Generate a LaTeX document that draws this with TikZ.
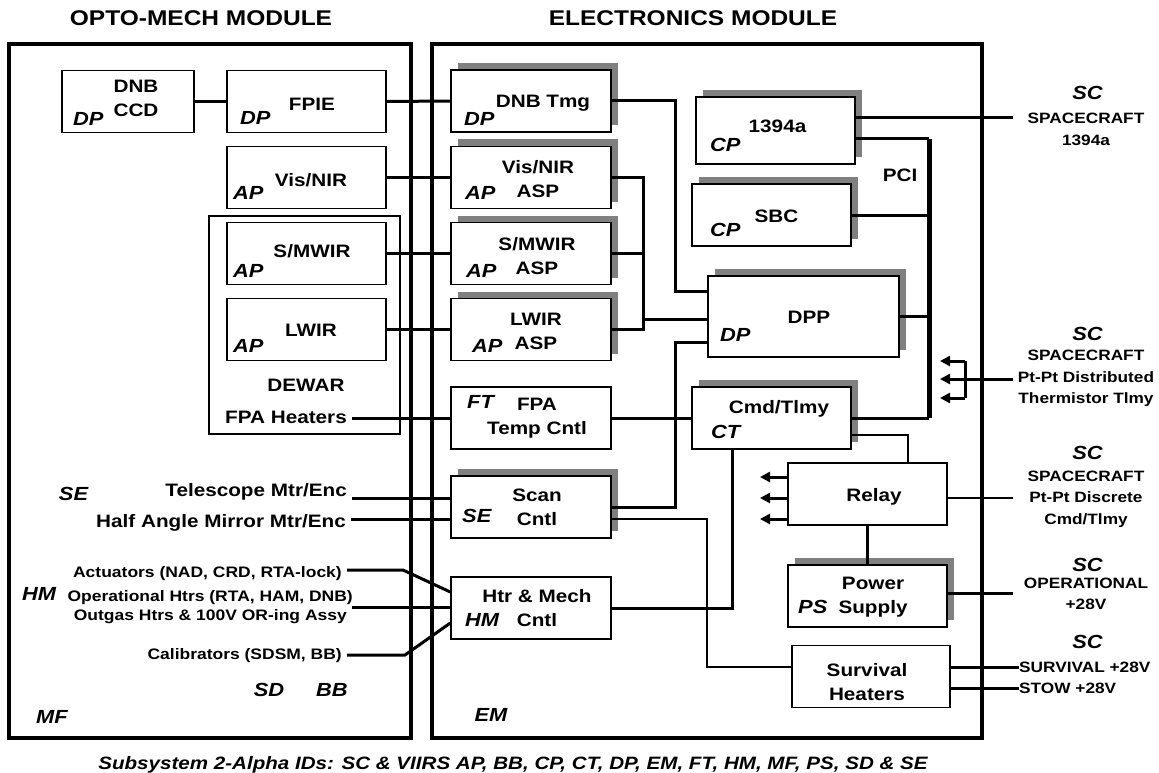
\documentclass[tikz,border=0pt]{standalone}
\usepackage{fontspec}
\setmainfont{Liberation Sans}[FakeStretch=1.15]
\usetikzlibrary{arrows.meta,shadows}

\begin{document}
\begin{tikzpicture}[x=1pt,y=-1pt,
  modframe/.style={line width=3.8pt},
  box/.style={draw,line width=1.4pt,fill=white,minimum width=159pt,minimum height=62pt,inner sep=0pt},
  shbox/.style={box,drop shadow={opacity=1,fill=black!50,shadow xshift=7pt,shadow yshift=7pt}},
  ttl/.style={font=\bfseries\fontsize{21.3}{24}\selectfont,inner sep=0pt},
  txt/.style={font=\bfseries\fontsize{18}{24}\selectfont,align=center,inner sep=0pt},
  side/.style={font=\bfseries\fontsize{18}{24}\selectfont,anchor=east,inner xsep=5pt,inner ysep=0pt},
  small/.style={font=\bfseries\fontsize{15.2}{18}\selectfont,anchor=east,inner xsep=5pt,inner ysep=0pt},
  idtxt/.style={font=\bfseries\itshape\fontsize{19}{22}\selectfont,inner sep=0pt},
  lbl/.style={font=\bfseries\fontsize{15}{21.5}\selectfont,align=center,inner sep=0pt},
  wire/.style={line width=3pt},
  lightwire/.style={line width=2pt},
  bus/.style={line width=5pt},
  arr/.style={wire,-{Triangle[length=10pt,width=10pt]}}]
  \useasboundingbox (0,0) rectangle (1159,773);

  % titles
  \node[ttl] (omtitle) at (201,18.5) {OPTO-MECH MODULE};
  \node[ttl] (emtitle) at (693,18.5) {ELECTRONICS MODULE};

  % module frames
  \draw[modframe] (9,44) rectangle (411,738);
  \draw[modframe] (432,44) rectangle (982,738);

  % opto-mech module
  \node[box,minimum width=132pt] (dnbccd) at (128,101.5) {};
  \node[box] (fpie) at (306.5,101.5) {};
  \node[box] (visnir) at (306.5,177.5) {};
  \node[box,minimum width=191pt,minimum height=218pt] (dewar) at (304.5,325) {};
  \node[box] (smwir) at (306.5,253.5) {};
  \node[box] (lwir) at (306.5,329.5) {};

  \node[txt] (dnbccd-t) at (136,98.5) {DNB\\CCD};
  \node[txt] (fpie-t) at (312,104) {FPIE};
  \node[txt] (visnir-t) at (311,180) {Vis/NIR};
  \node[txt] (smwir-t) at (312,251) {S/MWIR};
  \node[txt] (lwir-t) at (311,330.5) {LWIR};
  \node[txt] (dewar-t) at (306,385) {DEWAR};
  \node[side] (fpaheat) at (352,417) {FPA Heaters};
  \node[side] (telescope) at (352,492) {Telescope Mtr/Enc};
  \node[side] (halfangle) at (351,523) {Half Angle Mirror Mtr/Enc};
  \node[small] (actuators) at (347,573.5) {Actuators (NAD, CRD, RTA-lock)};
  \node[small] (operational) at (358,598) {Operational Htrs (RTA, HAM, DNB)};
  \node[small] (outgas) at (352,616.5) {Outgas Htrs \& 100V OR-ing Assy};
  \node[small] (calib) at (347,655.5) {Calibrators (SDSM, BB)};

  \node[idtxt,anchor=west] (dnbccd-id) at (73,118.5) {DP};
  \node[idtxt,anchor=west] (fpie-id) at (240,118) {DP};
  \node[idtxt,anchor=west] (visnir-id) at (233,192.5) {AP};
  \node[idtxt,anchor=west] (smwir-id) at (233,271) {AP};
  \node[idtxt,anchor=west] (lwir-id) at (233,345.5) {AP};
  \node[idtxt] (se-id) at (73.5,493.5) {SE};
  \node[idtxt] (hm-id) at (39,593.5) {HM};
  \node[idtxt] (sd-id) at (269,690) {SD};
  \node[idtxt] (bb-id) at (332,690) {BB};
  \node[idtxt] (mf-id) at (52,716.5) {MF};

  % electronics module
  \node[shbox,minimum width=160pt] (dnbtmg) at (531,101) {};
  \node[shbox,minimum width=160pt] (visasp) at (531,177.5) {};
  \node[shbox,minimum width=160pt] (smwasp) at (531,253.5) {};
  \node[shbox,minimum width=160pt] (lwasp) at (531,329.5) {};
  \node[box,minimum width=160pt] (fpatemp) at (531,418) {};
  \node[shbox,minimum width=160pt] (scan) at (531,507) {};
  \node[box,minimum width=160pt] (htr) at (531,608) {};
  \node[shbox,minimum height=67pt] (b1394) at (775.5,130.5) {};
  \node[shbox] (sbc) at (771.5,215) {};
  \node[shbox,minimum width=191pt,minimum height=81pt] (dpp) at (803.5,316.5) {};
  \node[shbox] (cmd) at (771.5,418) {};
  \node[box] (relay) at (867.5,494) {};
  \node[shbox] (ps) at (867.5,596) {};
  \node[box,minimum width=158pt] (survival) at (871,676.5) {};

  \node[txt] (dnbtmg-t) at (543,103) {DNB Tmg};
  \node[txt] (visasp-t) at (538,179) {Vis/NIR\\ASP};
  \node[txt] (smwasp-t) at (537,256) {S/MWIR\\ASP};
  \node[txt] (lwasp-t) at (536,331) {LWIR\\ASP};
  \node[txt] (fpatemp-t) at (537,418) {FPA\\Temp Cntl};
  \node[txt] (scan-t) at (537,507.5) {Scan\\Cntl};
  \node[txt] (htr-t) at (537,608.5) {Htr \& Mech\\Cntl};
  \node[txt] (b1394-t) at (777.5,126.5) {1394a};
  \node[txt] (sbc-t) at (776.5,216.5) {SBC};
  \node[txt] (dpp-t) at (809,317) {DPP};
  \node[txt] (cmd-t) at (779,408.5) {Cmd/Tlmy};
  \node[txt] (relay-t) at (874,496.5) {Relay};
  \node[txt] (ps-t) at (873,597.5) {Power\\Supply};
  \node[txt] (survival-t) at (867,682.5) {Survival\\Heaters};
  \node[txt] (pci) at (900,175) {PCI};
  \node[idtxt] (em-id) at (491,714.5) {EM};

  \node[idtxt,anchor=west] (dnbtmg-id) at (464,119) {DP};
  \node[idtxt,anchor=west] (visasp-id) at (465,192.5) {AP};
  \node[idtxt,anchor=west] (smwasp-id) at (466,271) {AP};
  \node[idtxt,anchor=west] (lwasp-id) at (472,345.5) {AP};
  \node[idtxt,anchor=west] (fpatemp-id) at (467,402) {FT};
  \node[idtxt,anchor=west] (scan-id) at (462,515.5) {SE};
  \node[idtxt,anchor=west] (htr-id) at (465,620) {HM};
  \node[idtxt,anchor=west] (b1394-id) at (710,145) {CP};
  \node[idtxt,anchor=west] (sbc-id) at (710,229.5) {CP};
  \node[idtxt,anchor=west] (dpp-id) at (720,335) {DP};
  \node[idtxt,anchor=west] (cmd-id) at (711,431.5) {CT};
  \node[idtxt,anchor=west] (ps-id) at (798,607) {PS};

  % spacecraft side
  \node[idtxt] (sc1) at (1087.5,93) {SC};
  \node[lbl] (sc1-t) at (1086,129.5) {SPACECRAFT\\1394a};
  \node[idtxt] (sc2) at (1087.5,333.5) {SC};
  \node[lbl] (sc2-t) at (1086,378.5) {SPACECRAFT\\Pt-Pt Distributed\\Thermistor Tlmy};
  \node[idtxt] (sc3) at (1087.5,453) {SC};
  \node[lbl] (sc3-t) at (1086,499) {SPACECRAFT\\Pt-Pt Discrete\\Cmd/Tlmy};
  \node[idtxt] (sc4) at (1087.5,565) {SC};
  \node[lbl] (sc4-t) at (1086,594) {OPERATIONAL\\+28V};
  \node[idtxt] (sc5) at (1087.5,641.5) {SC};
  \node[lbl,anchor=west] (survlbl) at (1019,667) {SURVIVAL +28V};
  \node[lbl,anchor=west] (stowlbl) at (1019,688.5) {STOW +28V};

  \coordinate (sc1in) at (1013,118);
  \coordinate (sc2in) at (1013,379);
  \coordinate (sc3in) at (1013,498);
  \coordinate (sc4in) at (1013,593);
  \coordinate (thfork) at (965,379);
  \coordinate (aspbus) at (643,319);
  \coordinate (pcitop) at (929,139);
  \coordinate (pcibot) at (929,418);

  % opto-mech to electronics
  \draw[wire] (dnbccd.east) -- (fpie.west);
  \draw[wire] (fpie.east) -- (dnbtmg.west);
  \draw[wire] (visnir.east) -- (visasp.west);
  \draw[wire] (smwir.east) -- (smwasp.west);
  \draw[wire] (lwir.east) -- (lwasp.west);
  \draw[wire] (fpaheat.east |- 0,418) -- (fpatemp.west |- 0,418);
  \draw[wire] (telescope.east |- 0,498) -- (scan.west |- 0,498);
  \draw[wire] (halfangle.east |- 0,519) -- (scan.west |- 0,519);
  \draw[wire] (actuators.east |- 0,570) -- (403,570) -- (htr.west |- 0,592);
  \draw[wire] (outgas.east |- 0,607) -- (htr.west |- 0,607);
  \draw[wire] (calib.east |- 0,655) -- (405,655) -- (htr.west |- 0,623);

  % inside electronics
  \draw[wire] (dnbtmg.east) -| (675,291) -- (dpp.west |- 0,291);
  \draw[wire] (visasp.east) -| (aspbus) |- (lwasp.east);
  \draw[wire] (smwasp.east) -- (smwasp.east -| aspbus);
  \draw[wire] (aspbus) -- (dpp.west |- aspbus);
  \draw[wire] (scan.east) -| (675,342) -- (dpp.west |- 0,342);
  \draw[lightwire] (scan.east |- 0,519) -| (707,667) -- (survival.west |- 0,667);
  \draw[wire] (fpatemp.east) -- (cmd.west);
  \draw[wire] (htr.east) -| (cmd.south -| 732,0);
  \draw[lightwire] (cmd.east |- 0,435) -| (relay.north -| 908,0);
  \draw[wire] (relay.south) -- (ps.north);
  \foreach \y in {477,498,519} {
    \draw[arr] (relay.west |- 0,\y) -- (760,\y);
  }

  % PCI bus
  \draw[wire] (b1394.east |- pcitop) -- (pcitop);
  \draw[wire] (sbc.east) -- (sbc.east -| pcitop);
  \draw[wire] (dpp.east) -- (dpp.east -| pcitop);
  \draw[wire] (cmd.east) -- (pcibot);
  \draw[bus] (pcitop) -- (pcibot);

  % spacecraft links
  \draw[wire] (b1394.east |- sc1in) -- (sc1in);
  \draw[wire] (sc2in) -- (thfork);
  \draw[wire] (965,361) -- (965,398);
  \foreach \y in {361,379,398} {
    \draw[arr] (965,\y) -- (940,\y);
  }
  \draw[lightwire] (relay.east |- sc3in) -- (sc3in);
  \draw[wire] (ps.east |- sc4in) -- (sc4in);
  \draw[wire] (survival.east |- survlbl.west) -- (survlbl.west);
  \draw[wire] (survival.east |- stowlbl.west) -- (stowlbl.west);

  % caption
  \node[font=\bfseries\itshape\fontsize{17.9}{20}\selectfont,inner sep=0pt] (caption) at (513,764.5)
    {Subsystem 2-Alpha IDs: SC \& VIIRS AP, BB, CP, CT, DP, EM, FT, HM, MF, PS, SD \& SE};
\end{tikzpicture}
\end{document}
